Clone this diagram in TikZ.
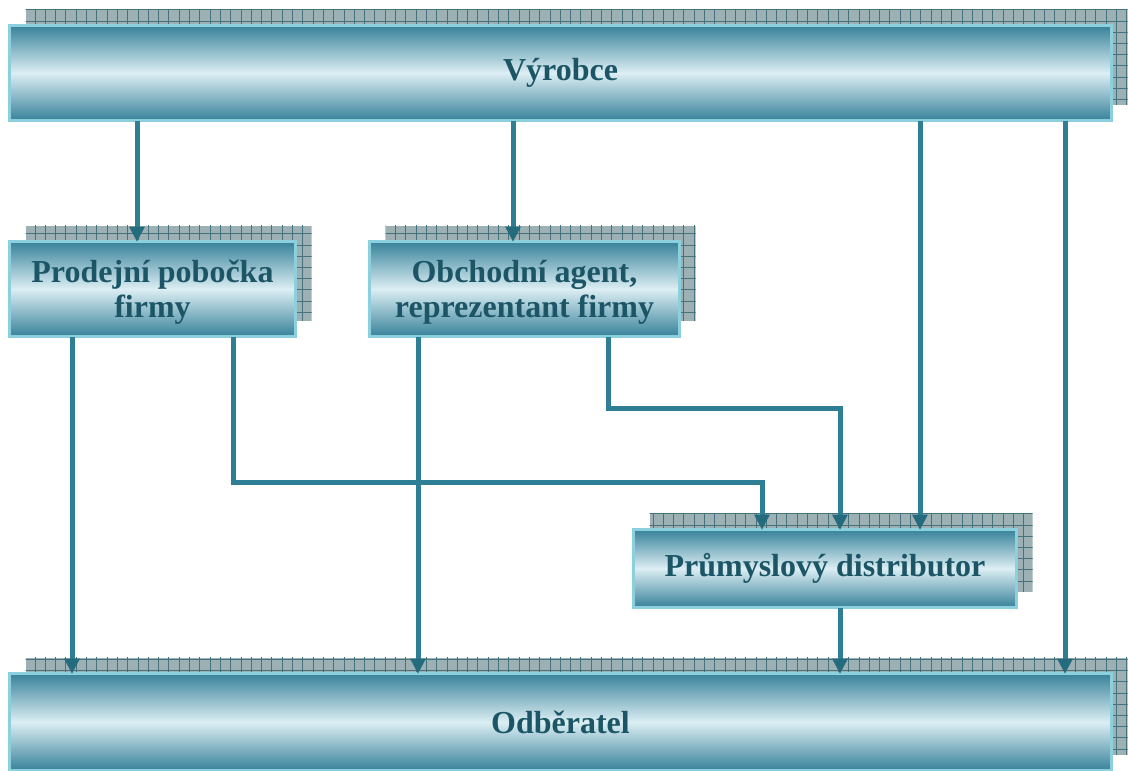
\documentclass[tikz,border=0pt]{standalone}
\usepackage{fontspec}
\setmainfont{Liberation Serif}
\usetikzlibrary{arrows.meta,backgrounds,calc}
\definecolor{edge}{HTML}{8CCFDD}
\definecolor{deep}{HTML}{37829A}
\definecolor{pale}{HTML}{DCEEF3}
\definecolor{ink}{HTML}{1C5666}
\definecolor{flow}{HTML}{2E7F95}
\definecolor{flowtip}{HTML}{246B7E}
\definecolor{hatchfill}{HTML}{9DB0B3}
\definecolor{hatchline}{HTML}{45737D}

\tikzset{
  panel/.style={rectangle, draw=edge, line width=3pt,
    top color=deep, bottom color=deep, middle color=pale,
    inner sep=0pt, outer sep=0pt, text=ink, align=center,
    font=\fontsize{32}{35}\selectfont\bfseries},
  flowline/.style={draw=flow, line width=5pt,
    -{Triangle[width=16pt,length=15pt,line width=0pt,fill=flowtip]}},
  hatch/.style={hatchline, line width=1pt},
}

% hatched drop shadow, shifted up and to the right of a box
\newcommand\panelshadow[1]{%
  \begin{scope}
    \clip ([shift={(16pt,16pt)}]#1.south west) rectangle ([shift={(16pt,16pt)}]#1.north east);
    \fill[hatchfill] ([shift={(16pt,16pt)}]#1.south west) rectangle ([shift={(16pt,16pt)}]#1.north east);
    \foreach \gx in {24.7,35.0,...,1130}
      \draw[hatch] (\gx,0) -- (\gx,771);
    \foreach \gy in {9.8,21.0,...,771}
      \draw[hatch] (0,\gy) -- (1128,\gy);
  \end{scope}}

\begin{document}
\begin{tikzpicture}[x=1pt, y=-1pt]
  \useasboundingbox (0,0) rectangle (1128,771);

  % boxes
  \node[panel, minimum width=1102pt, minimum height=95pt] (maker) at (560.5,73) {Výrobce};
  \node[panel, minimum width=286pt, minimum height=95pt] (branch) at (152.5,289)
    {\rule{0pt}{28pt}Prodejní pobočka\\firmy};
  \node[panel, minimum width=310pt, minimum height=95pt] (agent) at (524.5,289)
    {\rule{0pt}{28pt}Obchodní agent,\\reprezentant firmy};
  \node[panel, minimum width=383pt, minimum height=78pt] (dist) at (825,568.5) {Průmyslový distributor};
  \node[panel, minimum width=1102pt, minimum height=97pt] (buyer) at (560.5,722) {Odběratel};

  \begin{scope}[on background layer]
    \panelshadow{maker}
    \panelshadow{branch}
    \panelshadow{agent}
    \panelshadow{dist}
    \panelshadow{buyer}
  \end{scope}

  % lanes of the connectors
  \coordinate (laneA) at (137,0);
  \coordinate (laneB) at (513,0);
  \coordinate (laneC) at (920,0);
  \coordinate (laneD) at (1065,0);
  \coordinate (laneE) at (72,0);
  \coordinate (laneF) at (418,0);
  \coordinate (laneG) at (840,0);
  \coordinate (bendA) at (233,482);
  \coordinate (bendB) at (762,482);
  \coordinate (bendC) at (608,408);
  \coordinate (bendD) at (840,408);

  % from the producer
  \draw[flowline] (maker.south -| laneA) -- (branch.north -| laneA);
  \draw[flowline] (maker.south -| laneB) -- (agent.north -| laneB);
  \draw[flowline] (maker.south -| laneC) -- (dist.north -| laneC);
  \draw[flowline] (maker.south -| laneD) -- (buyer.north -| laneD);

  % from the sales branch
  \draw[flowline] (branch.south -| laneE) -- (buyer.north -| laneE);
  \draw[flowline] (branch.south -| bendA) |- (bendB) -- (dist.north -| bendB);

  % from the agent
  \draw[flowline] (agent.south -| laneF) -- (buyer.north -| laneF);
  \draw[flowline] (agent.south -| bendC) |- (bendD) -- (dist.north -| bendD);

  % from the distributor
  \draw[flowline] (dist.south -| laneG) -- (buyer.north -| laneG);
\end{tikzpicture}
\end{document}
